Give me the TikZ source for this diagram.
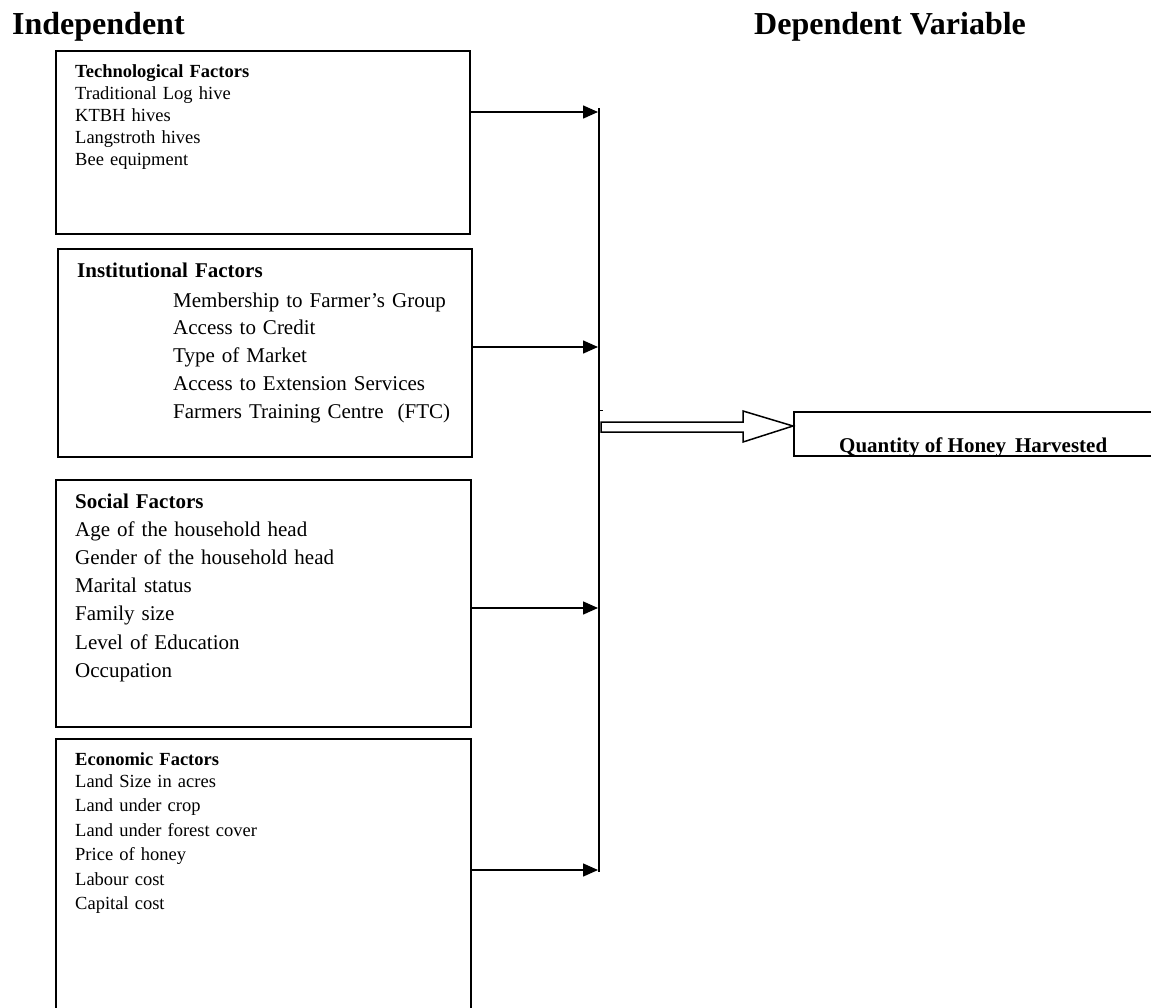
\documentclass[tikz,border=0pt]{standalone}
\usepackage{fontspec}
\setmainfont{Liberation Serif}
\usetikzlibrary{arrows.meta,calc}
\begin{document}
\begin{tikzpicture}[x=1pt,y=-1pt,
  box/.style={draw,line width=1.5pt,inner sep=0pt,anchor=north west},
  arr/.style={line width=1.5pt,-{Triangle[length=15pt,width=13pt]},shorten >=1pt},
  txts/.style={anchor=base west,inner sep=0pt,align=left,text width=390pt,font=\fontsize{18.5}{22}\selectfont},
  txtm/.style={anchor=base west,inner sep=0pt,align=left,text width=390pt,font=\fontsize{21}{28.2}\selectfont},
  title/.style={anchor=base west,inner sep=0pt,font=\fontsize{32}{38}\selectfont\bfseries}]
\useasboundingbox (0,0) rectangle (1151,1007);
% titles
\node[title] (tind) at (12,34) {Independent};
\node[title] (tdep) at (754,34) {Dependent Variable};
% boxes
\node[box,minimum width=414pt,minimum height=183pt] (tech) at (55,50) {};
\node[box,minimum width=414pt,minimum height=208pt] (inst) at (57,248) {};
\node[box,minimum width=415pt,minimum height=247pt] (soc) at (55,479) {};
\node[box,minimum width=415pt,minimum height=290pt] (econ) at (55,738) {};
\node[box,minimum width=375pt,minimum height=44pt] (out) at (793,411) {};
% texts
\node[txts] (techtxt) at (75,77) {\textbf{Technological Factors}\\Traditional Log hive\\KTBH hives\\Langstroth hives\\Bee equipment};
\node[txtm,font=\fontsize{21}{28}\selectfont\bfseries] (insth) at (77,277) {Institutional Factors};
\node[txtm,font=\fontsize{21}{27.9}\selectfont,text width=300pt] (insttxt) at (173,307) {Membership to Farmer’s Group\\Access to Credit\\Type of Market\\Access to Extension Services\\Farmers Training Centre\ \ (FTC)};
\node[txtm] (soctxt) at (75,508) {\textbf{Social Factors}\\Age of the household head\\Gender of the household head\\Marital status\\Family size\\Level of Education\\Occupation};
\node[txts,font=\fontsize{18.5}{22}\selectfont\bfseries] (econh) at (75,765) {Economic Factors};
\node[txts,font=\fontsize{18.5}{24.5}\selectfont] (econtxt) at (75,787) {Land Size in acres\\Land under crop\\Land under forest cover\\Price of honey\\Labour cost\\Capital cost};
\node[anchor=base west,inner sep=0pt,font=\fontsize{21}{26}\selectfont\bfseries] (outtxt) at (839,452) {Quantity of Honey\hspace{9pt}Harvested};
% bus
\coordinate (bt) at (599,108);
\coordinate (bb) at (599,872);
\coordinate (a1) at (599,112);
\coordinate (a2) at (599,347);
\coordinate (a3) at (599,608);
\coordinate (a4) at (599,870);
\draw[line width=2pt] (bt) -- (bb);
\draw[arr] (tech.east |- a1) -- (a1);
\draw[arr] (inst.east |- a2) -- (a2);
\draw[arr] (soc.east |- a3) -- (a3);
\draw[arr] (econ.east |- a4) -- (a4);
\draw[line width=1pt] (599,410) -- (603,410);
% hollow arrow
\coordinate (hs) at (600,427);
\coordinate (tip) at ($(out.north west)+(0,15)$);
\draw[line width=1.5pt,line join=miter] ($(hs)+(1,-5)$) -- ++(142,0) -- ++(0,-11) -- (tip) -- ($(tip)+(-50,16)$) -- ++(0,-10) -- ($(hs)+(1,5)$) -- cycle;
\end{tikzpicture}
\end{document}
